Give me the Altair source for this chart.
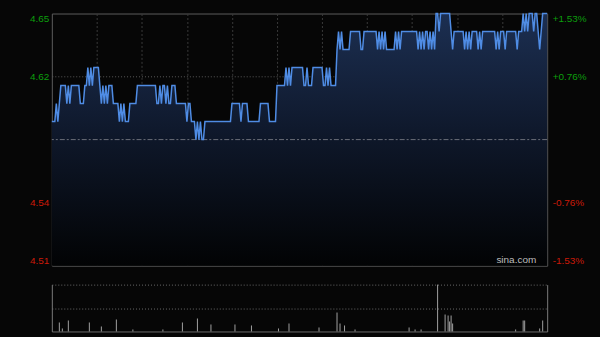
import altair as alt
import pandas as pd

# ---------------- data ----------------
prev_close = 4.58
# one price per trading minute (HK session, 330 minutes), in HK cents
price_cents = [
    459, 459, 459, 460, 459, 460, 461, 461, 461, 461,
    460, 461, 460, 461, 461, 461, 461, 461, 461, 460,
    460, 460, 461, 461, 462, 461, 462, 461, 462, 462,
    462, 462, 461, 460, 461, 460, 461, 460, 461, 461,
    461, 460, 460, 460, 460, 459, 460, 459, 460, 459,
    459, 459, 460, 460, 460, 460, 460, 461, 461, 461,
    461, 461, 461, 461, 461, 461, 461, 461, 461, 461,
    460, 460, 461, 460, 461, 461, 460, 461, 460, 460,
    461, 461, 461, 460, 460, 460, 460, 460, 460, 460,
    459, 460, 460, 459, 459, 459, 458, 459, 458, 459,
    458, 458, 459, 459, 459, 459, 459, 459, 459, 459,
    459, 459, 459, 459, 459, 459, 459, 459, 459, 459,
    460, 460, 460, 460, 460, 460, 459, 460, 460, 460,
    460, 459, 459, 459, 459, 459, 459, 459, 459, 460,
    460, 460, 460, 460, 460, 459, 459, 459, 459, 459,
    461, 461, 461, 461, 461, 461, 462, 461, 462, 461,
    462, 462, 462, 462, 462, 462, 462, 462, 461, 461,
    462, 461, 461, 461, 462, 462, 462, 462, 462, 462,
    462, 461, 461, 462, 461, 462, 461, 461, 461, 461,
    463, 464, 463, 464, 463, 463, 463, 463, 463, 464,
    464, 464, 464, 464, 464, 464, 463, 463, 464, 464,
    464, 464, 464, 464, 464, 464, 464, 463, 464, 463,
    464, 463, 464, 463, 463, 463, 463, 463, 463, 464,
    463, 464, 463, 464, 464, 464, 464, 464, 464, 464,
    464, 464, 464, 464, 463, 464, 463, 464, 463, 464,
    464, 463, 464, 463, 464, 463, 465, 465, 464, 465,
    465, 465, 465, 465, 465, 465, 464, 463, 464, 464,
    464, 464, 464, 464, 464, 463, 464, 463, 464, 463,
    464, 464, 464, 464, 463, 464, 463, 464, 464, 464,
    464, 464, 464, 464, 464, 464, 463, 464, 463, 464,
    464, 464, 463, 464, 464, 464, 464, 464, 464, 464,
    463, 464, 464, 464, 465, 464, 465, 464, 465, 465,
    465, 464, 465, 465, 464, 463, 464, 465, 465, 465,
    465,
]
prices = [c / 100 for c in price_cents]
minutes = list(range(len(prices)))

# notable volume bars (minute, relative volume)
vol_minutes = [5, 7, 11, 25, 33, 43, 54, 74, 87, 97, 106, 122, 133, 151, 158,
               178, 190, 192, 195, 202, 238, 242, 246, 257, 262, 264, 265, 266,
               267, 309, 314, 315, 325, 327]
vol_values = [90, 30, 110, 90, 50, 120, 20, 20, 90, 130, 70, 70, 60, 30, 80,
              40, 190, 80, 60, 20, 40, 20, 20, 470, 170, 160, 100, 160,
              80, 20, 110, 110, 30, 110]
vol_max = 470

tick_prices = [4.51, 4.545, 4.615, 4.65]
left_labels = ["4.51", "4.54", "4.62", "4.65"]
right_labels = ["-1.53%", "-0.76%", "+0.76%", "+1.53%"]
grid_minutes = [30, 60, 90, 120, 150, 180, 210, 240, 270, 300]
y_lo, y_hi = 4.51, 4.65

price_df = pd.DataFrame({"minute": minutes, "price": prices})
vol_df = pd.DataFrame({"minute": vol_minutes, "vol": vol_values})
ref_df = pd.DataFrame({"price": [prev_close]})
mark_df = pd.DataFrame({"minute": [330], "price": [y_lo], "t": ["sina.com"]})


def label_expr(labels):
    expr = "'" + labels[-1] + "'"
    for v, lab in reversed(list(zip(tick_prices[:-1], labels[:-1]))):
        expr = f"datum.value < {v + 0.01} ? '{lab}' : " + expr
    return expr


GREEN = "#0c9e0c"
RED = "#cc1a08"
FONT = "Liberation Sans"
label_color = {"condition": {"test": f"datum.value > {prev_close}", "value": GREEN}, "value": RED}
grid_color = {"condition": {"test": "datum.value > 4.52 && datum.value < 4.64", "value": "#5a5a5a"},
              "value": "transparent"}

xscale = alt.Scale(domain=[0, 330], nice=False, zero=False)
yscale = alt.Scale(domain=[y_lo, y_hi], nice=False, zero=False)

x_main = alt.X("minute:Q", scale=xscale,
               axis=alt.Axis(values=grid_minutes, grid=True, labels=False, ticks=False,
                             domain=False, title=None, gridColor="#3a3a3a",
                             gridDash=[2, 2], gridWidth=1, minExtent=0, maxExtent=0))

left_axis = alt.Axis(values=tick_prices, orient="left", labelExpr=label_expr(left_labels),
                     labelFlush=True, labelPadding=3, ticks=False, domain=False, grid=True,
                     gridColor=grid_color, gridDash=[1, 2], labelColor=label_color,
                     labelFont=FONT, labelFontSize=10, title=None, minExtent=51, maxExtent=51)
right_axis = alt.Axis(values=tick_prices, orient="right", labelExpr=label_expr(right_labels),
                      labelFlush=True, labelPadding=5, ticks=False, domain=False, grid=False,
                      labelColor=label_color, labelFont=FONT, labelFontSize=10, title=None,
                      minExtent=52, maxExtent=52)

gradient = alt.Gradient(
    gradient="linear", x1=0, x2=0, y1=0, y2=1,
    stops=[alt.GradientStop(color="#1c2f52", offset=0),
           alt.GradientStop(color="#0e1729", offset=0.5),
           alt.GradientStop(color="#020304", offset=1)])

area = alt.Chart(price_df).mark_area(color=gradient, interpolate="linear").encode(
    x=x_main, y=alt.Y("price:Q", scale=yscale, axis=left_axis), y2=alt.Y2(datum=y_lo))

line = alt.Chart(price_df).mark_line(color="#4f8ce4", strokeWidth=1.5, interpolate="linear").encode(
    x=x_main, y=alt.Y("price:Q", scale=yscale, axis=right_axis))

center = alt.Chart(ref_df).mark_rule(color="#6a6e78", strokeWidth=1, strokeDash=[5, 2, 2, 2]).encode(
    y=alt.Y("price:Q", scale=yscale, axis=None))

mark = alt.Chart(mark_df).mark_text(align="right", baseline="bottom", dx=-11, dy=-1,
                                    color="#bdbdbd", font=FONT, fontSize=10).encode(
    x=x_main, y=alt.Y("price:Q", scale=yscale, axis=None), text="t:N")

main = alt.layer(area, center, line, mark).resolve_axis(y="independent").properties(
    width=497, height=253,
    view=alt.ViewBackground(stroke="#5c5c5c", strokeWidth=1))

# ---------------- volume ----------------
vscale = alt.Scale(domain=[0, vol_max], nice=False, zero=True)
x_vol = alt.X("minute:Q", scale=xscale,
              axis=alt.Axis(grid=False, labels=False, ticks=False, domain=True,
                            domainColor="#6a6a6a", title=None, minExtent=0, maxExtent=0))
vol_left = alt.Axis(values=[vol_max / 2, vol_max], orient="left", grid=True, gridColor="#6a6a6a",
                    gridDash=[1, 2], labels=False, ticks=False, domain=True, domainColor="#7a7a7a",
                    title=None, minExtent=51, maxExtent=51)
vol_right = alt.Axis(orient="right", grid=False, labels=False, ticks=False, domain=True,
                     domainColor="#7a7a7a", title=None, minExtent=52, maxExtent=52)

bars = alt.Chart(vol_df).mark_rule(color="#a0a0a0", strokeWidth=1).encode(
    x=x_vol, y=alt.Y("vol:Q", scale=vscale, axis=vol_left), y2=alt.Y2(datum=0))
bars_r = alt.Chart(vol_df).mark_rule(opacity=0).encode(
    x=x_vol, y=alt.Y("vol:Q", scale=vscale, axis=vol_right), y2=alt.Y2(datum=0))

vol = alt.layer(bars, bars_r).resolve_axis(y="independent").properties(
    width=497, height=47, view=alt.ViewBackground(strokeOpacity=0))

chart = alt.vconcat(main, vol, spacing=17).properties(
    padding={"left": 0, "top": 9, "right": 0, "bottom": 5},
    background="#060606",
).configure_view(strokeWidth=1)

chart.save("out.html", embed_options={"renderer": "svg", "actions": False})
